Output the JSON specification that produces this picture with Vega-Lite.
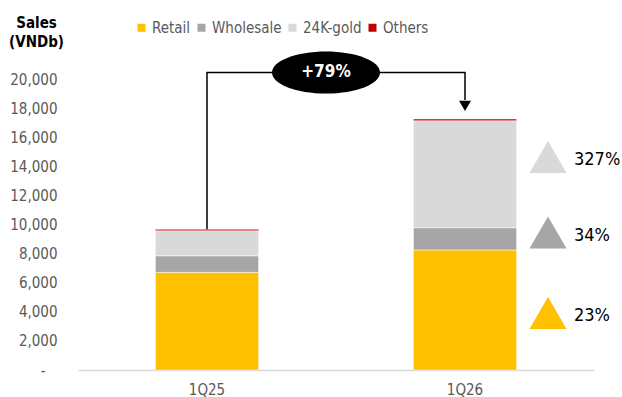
{
  "$schema": "https://vega.github.io/schema/vega-lite/v6.json",
  "autosize": "none",
  "width": 516,
  "height": 291,
  "padding": {"left": 78, "top": 79, "right": 28, "bottom": 27},
  "background": "white",
  "config": {
    "view": {"stroke": null},
    "font": "DejaVu Sans Condensed",
    "axis": {"grid": false, "ticks": false, "labelFont": "DejaVu Sans Condensed", "labelOverlap": false}
  },
  "layer": [
    {
      "data": {"values": [
        {"quarter": "1Q25", "segment": "Retail", "sales": 6710},
        {"quarter": "1Q25", "segment": "Wholesale", "sales": 1140},
        {"quarter": "1Q25", "segment": "24K-gold", "sales": 1720},
        {"quarter": "1Q25", "segment": "Others", "sales": 100},
        {"quarter": "1Q26", "segment": "Retail", "sales": 8250},
        {"quarter": "1Q26", "segment": "Wholesale", "sales": 1530},
        {"quarter": "1Q26", "segment": "24K-gold", "sales": 7350},
        {"quarter": "1Q26", "segment": "Others", "sales": 120}
      ]},
      "transform": [
        {"calculate": "indexof(['Retail', 'Wholesale', '24K-gold', 'Others'], datum.segment)", "as": "stackOrder"}
      ],
      "mark": {"type": "bar", "stroke": "white", "strokeWidth": 0.5},
      "encoding": {
        "x": {
          "field": "quarter", "type": "nominal",
          "scale": {"paddingInner": 0.6, "paddingOuter": 0.3},
          "axis": {"title": null, "labelAngle": 0, "labelColor": "#595959", "labelFontSize": 15, "labelPadding": 12, "domainColor": "#D9D9D9", "domainWidth": 1.5}
        },
        "y": {
          "field": "sales", "type": "quantitative", "stack": "zero",
          "scale": {"domain": [0, 20000], "nice": false},
          "axis": {
            "values": [0, 2000, 4000, 6000, 8000, 10000, 12000, 14000, 16000, 18000, 20000],
            "tickCount": 20,
            "labelOverlap": false,
            "labelExpr": "datum.value == 0 ? '-' : format(datum.value, ',')",
            "labelPadding": {"condition": {"test": "datum.value == 0", "value": 33}, "value": 21},
            "labelColor": "#595959", "labelFontSize": 15, "domain": false,
            "title": ["Sales", "(VNDb)"], "titleAngle": 0, "titleAlign": "center", "titleBaseline": "top",
            "titleX": -42, "titleY": -64, "titleFontSize": 15, "titleFontWeight": "bold", "titleColor": "black", "titleLineHeight": 19
          }
        },
        "color": {
          "field": "segment", "type": "nominal",
          "scale": {"domain": ["Retail", "Wholesale", "24K-gold", "Others"], "range": ["#FFC000", "#A6A6A6", "#D9D9D9", "#C00000"]},
          "legend": {
            "title": null, "orient": "none", "direction": "horizontal", "legendX": 56, "legendY": -59,
            "symbolType": "square", "symbolSize": 64, "symbolStrokeWidth": 0, "labelFontSize": 15, "labelColor": "#595959",
            "columnPadding": 3, "labelOffset": 3
          }
        },
        "order": {"field": "stackOrder", "type": "quantitative", "sort": "ascending"}
      }
    },
    {
      "data": {"values": [
        {"quarter": "1Q25", "v": 9670, "k": 1},
        {"quarter": "1Q25", "v": 20450, "k": 2},
        {"quarter": "1Q26", "v": 20450, "k": 3},
        {"quarter": "1Q26", "v": 18550, "k": 4}
      ]},
      "mark": {"type": "line", "color": "black", "strokeWidth": 1.5, "clip": false},
      "encoding": {
        "x": {"field": "quarter", "type": "nominal"},
        "y": {"field": "v", "type": "quantitative"},
        "order": {"field": "k"}
      }
    },
    {
      "data": {"values": [{"quarter": "1Q26", "v": 18150}]},
      "mark": {"type": "point", "shape": "triangle-down", "filled": true, "color": "black", "opacity": 1, "size": 144, "clip": false},
      "encoding": {
        "x": {"field": "quarter", "type": "nominal"},
        "y": {"field": "v", "type": "quantitative"}
      }
    },
    {
      "data": {"values": [{"quarter": "1Q25", "v": 20450, "label": "+79%"}]},
      "layer": [
        {
          "mark": {"type": "point", "shape": "M-1,0A1,0.39,0,1,0,1,0A1,0.39,0,1,0,-1,0Z", "filled": true, "color": "black", "opacity": 1, "size": 11664, "xOffset": 119, "clip": false},
          "encoding": {
            "x": {"field": "quarter", "type": "nominal"},
            "y": {"field": "v", "type": "quantitative"}
          }
        },
        {
          "mark": {"type": "text", "color": "white", "fontSize": 17, "fontWeight": "bold", "align": "center", "baseline": "middle", "xOffset": 119, "clip": false},
          "encoding": {
            "x": {"field": "quarter", "type": "nominal"},
            "y": {"field": "v", "type": "quantitative"},
            "text": {"field": "label"}
          }
        }
      ]
    },
    {
      "data": {"values": [
        {"quarter": "1Q26", "segment": "24K-gold", "v": 14640, "label": "327%"},
        {"quarter": "1Q26", "segment": "Wholesale", "v": 9450, "label": "34%"},
        {"quarter": "1Q26", "segment": "Retail", "v": 3920, "label": "23%"}
      ]},
      "layer": [
        {
          "mark": {"type": "point", "shape": "triangle-up", "filled": true, "opacity": 1, "size": 1369, "xOffset": 83},
          "encoding": {
            "x": {"field": "quarter", "type": "nominal"},
            "y": {"field": "v", "type": "quantitative"},
            "color": {"field": "segment", "type": "nominal", "legend": null}
          }
        },
        {
          "mark": {"type": "text", "color": "black", "fontSize": 18, "align": "left", "baseline": "middle", "xOffset": 109, "dy": 3},
          "encoding": {
            "x": {"field": "quarter", "type": "nominal"},
            "y": {"field": "v", "type": "quantitative"},
            "text": {"field": "label"}
          }
        }
      ]
    }
  ]
}
